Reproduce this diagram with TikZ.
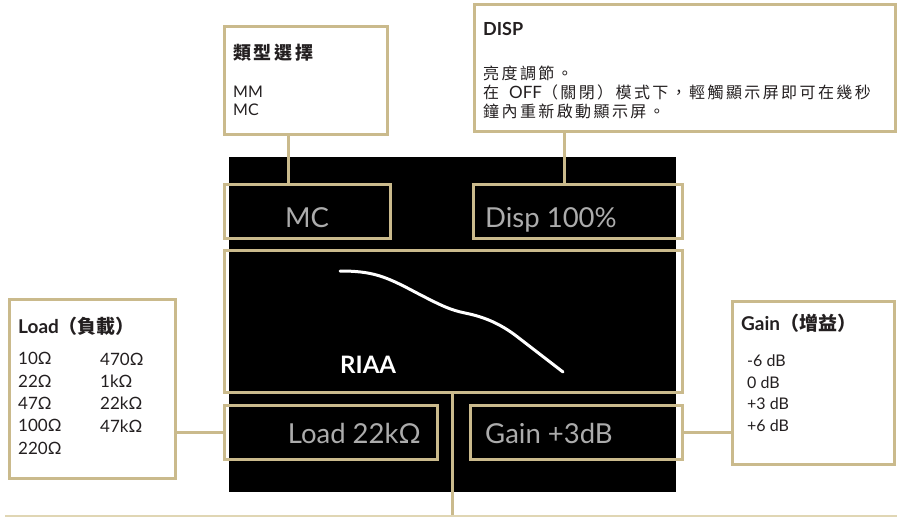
\documentclass[tikz,border=0pt]{standalone}
\usepackage{fontspec}
\setmainfont{Lato}
\newfontfamily\cjk{Noto Sans CJK TC}
\newfontfamily\cjkwide{Noto Sans CJK TC}[LetterSpace=15]
\definecolor{gold}{RGB}{202,186,140}
\definecolor{pale}{RGB}{224,214,180}
\definecolor{ink}{RGB}{35,31,32}
\definecolor{dim}{RGB}{172,172,172}

\tikzset{
  note/.style={draw=gold, line width=3pt, fill=white, anchor=north west, inner sep=0pt},
  field/.style={draw=gold, line width=3pt, anchor=north west, inner sep=0pt},
  lead/.style={draw=gold, line width=3pt},
  txt/.style={anchor=base west, inner sep=0pt, text=ink, align=left},
  readout/.style={anchor=base west, inner sep=0pt, text=dim,
    font=\fontsize{27.5}{27.5}\selectfont},
}

\begin{document}
\begin{tikzpicture}[x=1pt, y=-1pt]
\useasboundingbox (0,0) rectangle (897,517);

% display
\node[fill=black, anchor=north west, inner sep=0pt,
  minimum width=447pt, minimum height=335pt] (scr) at (229,157) {};
\node[field, minimum width=166pt, minimum height=54pt] (mc) at (223,183) {};
\node[field, minimum width=209pt, minimum height=54pt] (disp) at (472,183) {};
\node[field, minimum width=458pt, minimum height=142pt] (riaa) at (223,249) {};
\node[field, minimum width=213pt, minimum height=54pt] (load) at (223,404) {};
\node[field, minimum width=212pt, minimum height=54pt] (gain) at (469,404) {};

\node[readout, anchor=base] (mct) at (307,227) {MC};
\node[readout] (dispt) at (485,227) {Disp 100\%};
\node[readout, anchor=base east] (loadt) at (421,443) {Load 22kΩ};
\node[readout] (gaint) at (485,443) {Gain +3dB};
\node[txt, text=white, font=\fontsize{24}{24}\selectfont\bfseries] (riaat) at (340,373) {RIAA};
\draw[white, line width=3pt, line cap=round]
  (340,271) .. controls (372,271) and (385,276) .. (415,292)
  .. controls (440,305) and (450,310) .. (465,313)
  .. controls (485,317) and (500,324) .. (515,335) -- (563,372);

% callouts (multi-line texts sit on their last baseline)
\node[note, minimum width=163pt, minimum height=108pt] (typ) at (223,25) {};
\node[txt, font=\fontsize{18}{18}\selectfont\bfseries\cjkwide] (typt) at (233,59) {類型選擇};
\node[txt, font=\fontsize{16}{18}\selectfont] (typl) at (233,115) {MM\\MC};

\node[note, minimum width=421pt, minimum height=127pt] (dispn) at (473,3) {};
\node[txt, font=\fontsize{18}{18}\selectfont\bfseries] (dispnt) at (483,35) {DISP};
\node[txt, font=\fontsize{16}{18.7}\selectfont\cjkwide] (dispnl) at (483,117)
  {亮度調節。\\在\hspace{10pt}{\normalfont\fontsize{17}{18.7}\selectfont OFF}（關閉）模式下，輕觸顯示屏即可在幾秒\\鐘內重新啟動顯示屏。};

\node[note, minimum width=166pt, minimum height=179pt] (loadn) at (8,298) {};
\node[txt, font=\fontsize{19}{19}\selectfont\bfseries] (loadnt) at (18,333) {Load{\cjk（負載）}};
\node[txt, font=\fontsize{17}{22.3}\selectfont] (loadl1) at (18,454) {10Ω\\22Ω\\47Ω\\100Ω\\220Ω};
\node[txt, font=\fontsize{17}{22.3}\selectfont] (loadl2) at (100,432) {470Ω\\1kΩ\\22kΩ\\47kΩ};

\node[note, minimum width=162pt, minimum height=163pt] (gainn) at (731,300) {};
\node[txt, font=\fontsize{19}{19}\selectfont\bfseries] (gainnt) at (741,330) {Gain{\cjk（增益）}};
\node[txt, font=\fontsize{16}{21.5}\selectfont] (gainl) at (747,431) {-6 dB\\0 dB\\+3 dB\\+6 dB};

% leads
\coordinate (foot) at (452,516);
\coordinate (edgel) at (5,516);
\coordinate (edger) at (897,516);
\draw[lead] ([xshift=-18pt]typ.south) -- ([xshift=-18pt]typ.south |- mc.north);
\draw[lead] (dispn.south -| 564,0) -- (mc.north -| 564,0);
\draw[lead] (load.west) -- (load.west -| loadn.east);
\draw[lead] (gain.east) -- (gain.east -| gainn.west);
\draw[lead] (riaa.south -| foot) -- (foot);
\draw[pale, line width=2pt] (edgel) -- (edger);
\end{tikzpicture}
\end{document}
